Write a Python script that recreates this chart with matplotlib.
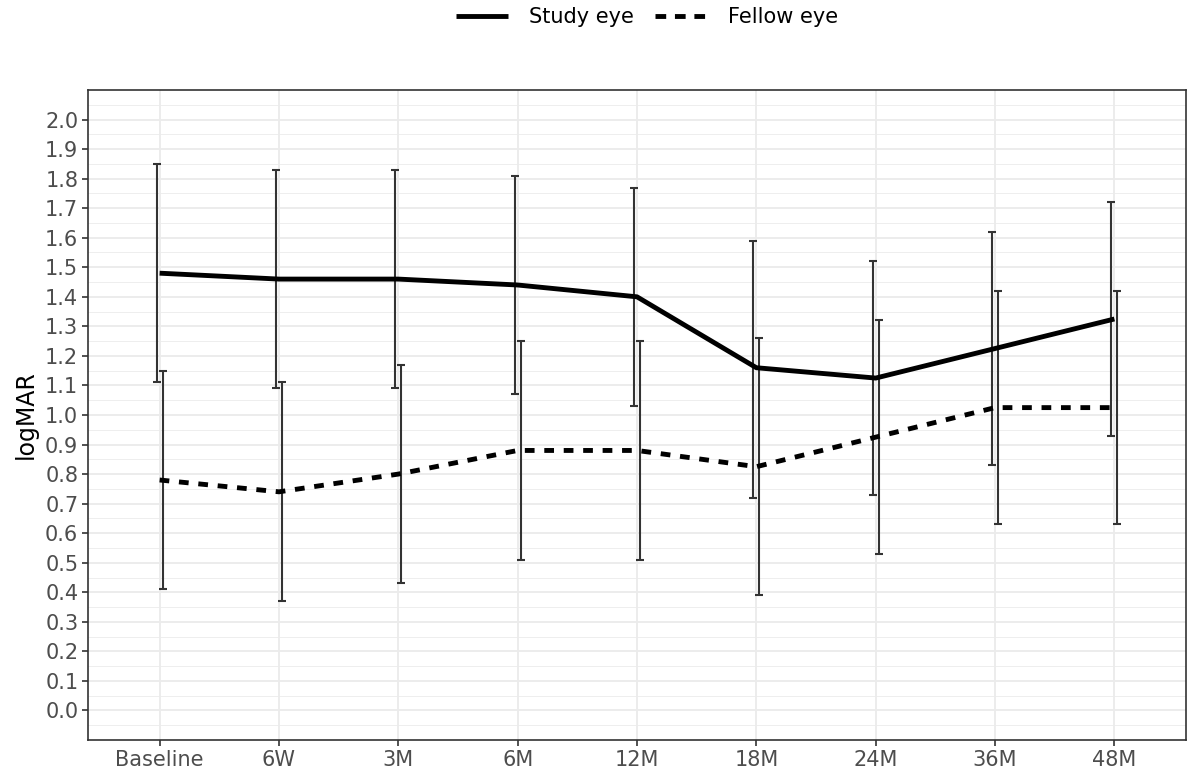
import matplotlib
matplotlib.use("Agg")
import matplotlib.pyplot as plt
from matplotlib.lines import Line2D
import numpy as np

timepoints = ["Baseline", "6W", "3M", "6M", "12M", "18M", "24M", "36M", "48M"]

study_mean = [1.48, 1.46, 1.46, 1.44, 1.40, 1.16, 1.125, 1.225, 1.325]
study_low = [1.11, 1.09, 1.09, 1.07, 1.03, 0.72, 0.73, 0.83, 0.93]
study_high = [1.85, 1.83, 1.83, 1.81, 1.77, 1.59, 1.52, 1.62, 1.72]

fellow_mean = [0.78, 0.74, 0.80, 0.88, 0.88, 0.825, 0.925, 1.025, 1.025]
fellow_low = [0.41, 0.37, 0.43, 0.51, 0.51, 0.39, 0.53, 0.63, 0.63]
fellow_high = [1.15, 1.11, 1.17, 1.25, 1.25, 1.26, 1.32, 1.42, 1.42]

y_ticks = [round(0.1 * i, 1) for i in range(21)]

fig = plt.figure(figsize=(11.92, 7.78), dpi=100)
ax = fig.add_axes([88 / 1192, 38 / 778, (1186 - 88) / 1192, (740 - 90) / 778])

x = np.arange(len(timepoints))
dodge = 0.025
err_col = "#333333"
lw_line = 3.5

# grid
for yv in np.arange(-0.05, 2.11, 0.1):
    ax.axhline(yv, color="#EBEBEB", lw=0.6, zorder=0)
for yv in y_ticks:
    ax.axhline(yv, color="#EBEBEB", lw=1.3, zorder=0)
for xv in x:
    ax.axvline(xv, color="#EBEBEB", lw=1.3, zorder=0)

sm = np.array(study_mean)
fm = np.array(fellow_mean)
ax.errorbar(x - dodge, sm, yerr=[sm - np.array(study_low), np.array(study_high) - sm],
            fmt="none", ecolor=err_col, elinewidth=1.5, capsize=3.2, capthick=1.5, zorder=2)
ax.errorbar(x + dodge, fm, yerr=[fm - np.array(fellow_low), np.array(fellow_high) - fm],
            fmt="none", ecolor=err_col, elinewidth=1.5, capsize=3.2, capthick=1.5, zorder=2)

ax.plot(x, sm, color="black", lw=lw_line, solid_capstyle="butt", zorder=3)
ax.plot(x, fm, color="black", lw=lw_line, linestyle=(0, (2, 2)), dash_capstyle="butt", zorder=3)

ax.set_xlim(-0.6, len(timepoints) - 1 + 0.6)
ax.set_ylim(-0.1, 2.1)
ax.set_xticks(x)
ax.set_xticklabels(timepoints)
ax.set_yticks(y_ticks)
ax.set_yticklabels([f"{v:.1f}" for v in y_ticks])
ax.tick_params(axis="both", colors="#333333", labelcolor="#4D4D4D", labelsize=15,
               length=4, width=1.2)
ax.tick_params(axis="x", pad=3)
ax.tick_params(axis="y", pad=3)
for s in ax.spines.values():
    s.set_color("#333333")
    s.set_linewidth(1.2)

ax.set_ylabel("logMAR", fontsize=17, color="black", labelpad=5)

handles = [
    Line2D([0], [0], color="black", lw=lw_line, solid_capstyle="butt"),
    Line2D([0], [0], color="black", lw=lw_line, linestyle=(0, (2.2, 1.8)), dash_capstyle="butt"),
]
fig.legend(handles, ["Study eye", "Fellow eye"], loc="center",
           bbox_to_anchor=(647 / 1192, 1 - 17 / 778), ncol=2, frameon=False,
           fontsize=15, handlelength=2.5, handletextpad=1.0, columnspacing=1.0)

fig.savefig("out.png", dpi=100)
